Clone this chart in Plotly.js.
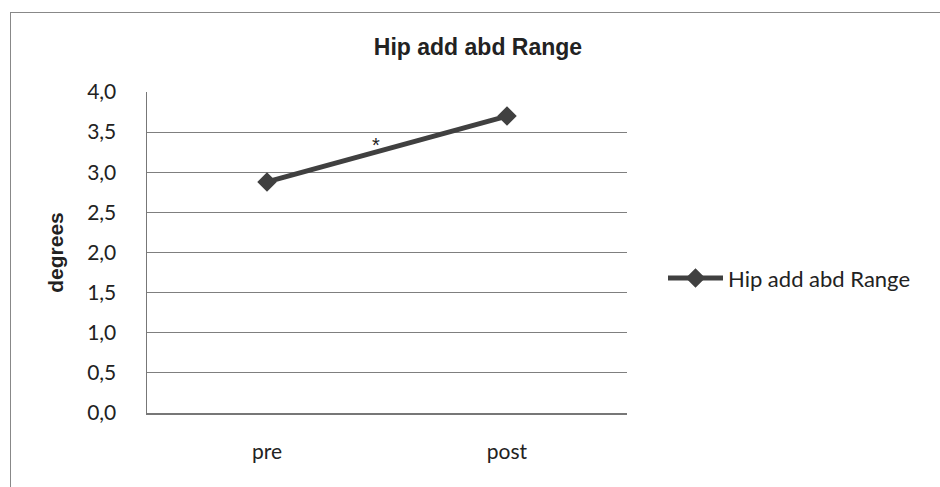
<!DOCTYPE html>
<html>
<head>
<meta charset="utf-8">
<script src="https://cdn.plot.ly/plotly-3.0.1.min.js"></script>
<style>
  html, body { margin: 0; padding: 0; background: #fff; }
  #wrap { position: relative; width: 940px; height: 487px; overflow: hidden; }
  #chart { position: absolute; left: 0; top: 0; width: 940px; height: 487px; }
  #frame { position: absolute; left: 10px; top: 12px; width: 1200px; height: 1200px;
           border-left: 1px solid #888; border-top: 1px solid #888; pointer-events: none; }
</style>
</head>
<body>
<div id="wrap">
  <div id="chart"></div>
  <div id="frame"></div>
</div>
<script>
const categories = ["pre", "post"];
const seriesName = "Hip add abd Range";
const values = [2.88, 3.70];
const yTicks = [0, 0.5, 1, 1.5, 2, 2.5, 3, 3.5, 4];
const starLabel = "*";
const starX = 0.455;
const starY = 3.34;

const tickFont = { family: "Lato, 'Open Sans', sans-serif", size: 21, color: "#222" };
const legendFont = { family: "Lato, 'Open Sans', sans-serif", size: 22, color: "#222" };
const headFont = { family: "'Liberation Sans', Arial, sans-serif", size: 21, color: "#222" };

const trace = {
  x: categories,
  y: values,
  type: "scatter",
  mode: "lines+markers",
  name: seriesName,
  line: { color: "#404040", width: 5 },
  marker: { symbol: "diamond", size: 15, color: "#404040" }
};

const layout = {
  width: 940,
  height: 487,
  margin: { l: 147, r: 313, t: 92, b: 74 },
  paper_bgcolor: "#fff",
  plot_bgcolor: "#fff",
  separators: ",.",
  title: {
    text: "<b>Hip add abd Range</b>",
    font: { family: "'Liberation Sans', Arial, sans-serif", size: 23, color: "#222" },
    x: 0.5085, xanchor: "center",
    y: 1 - 47 / 487, yanchor: "middle"
  },
  xaxis: {
    type: "category",
    range: [-0.5, 1.5],
    showgrid: false,
    showline: true,
    linecolor: "#777",
    linewidth: 1.5,
    ticks: "",
    tickfont: tickFont,
    ticklabelstandoff: 19,
    zeroline: false
  },
  yaxis: {
    range: [0, 4],
    tickvals: yTicks,
    tickformat: ".1f",
    showgrid: true,
    gridcolor: "#7f7f7f",
    gridwidth: 1,
    showline: true,
    linecolor: "#777",
    linewidth: 1.5,
    ticks: "",
    tickfont: tickFont,
    ticklabelstandoff: 25,
    zeroline: false,
    title: {
      text: "<b>degrees</b>",
      font: headFont,
      standoff: 18
    }
  },
  showlegend: true,
  legend: {
    x: 1.075, xanchor: "left",
    y: 0.42, yanchor: "middle",
    font: legendFont,
    itemwidth: 55,
    bgcolor: "rgba(0,0,0,0)"
  },
  annotations: [{
    x: starX, y: starY, xref: "x", yref: "y",
    text: starLabel, showarrow: false,
    font: { family: "'Liberation Sans', Arial, sans-serif", size: 20, color: "#222" }
  }]
};

Plotly.newPlot("chart", [trace], layout, { staticPlot: true, displayModeBar: false });
</script>
</body>
</html>
